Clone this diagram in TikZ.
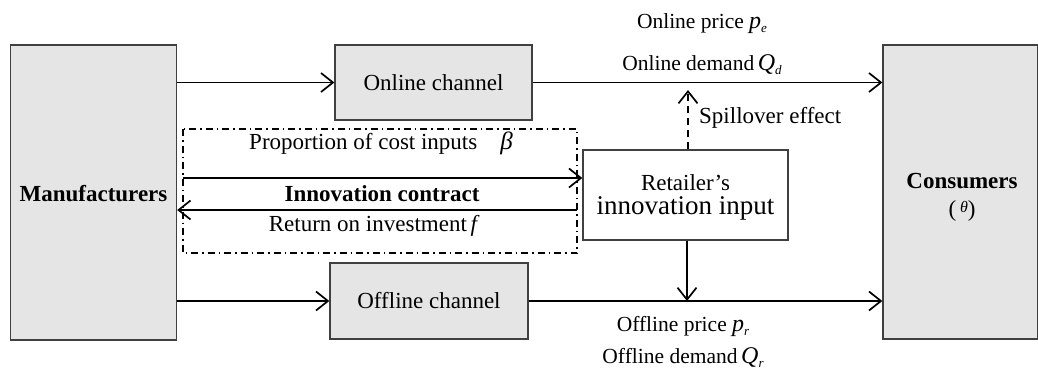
\documentclass[tikz,border=0pt]{standalone}
\usepackage{fontspec}
\setmainfont{Liberation Serif}
\usetikzlibrary{arrows.meta}
\newcommand{\sub}[1]{\raisebox{-0.45ex}{\fontsize{13}{14}\selectfont\itshape #1}}
\tikzset{
  box/.style={draw=black!75, line width=1.3pt, fill=black!10, inner sep=0pt},
  wbox/.style={draw=black!75, line width=1.3pt, fill=white, inner sep=0pt},
  arr/.style={line width=1.7pt, -{Straight Barb[length=12pt,width=19pt,line width=1.7pt]}},
  lbl/.style={inner sep=0pt, anchor=base, font=\fontsize{21.5}{24}\selectfont},
  txt/.style={inner sep=0pt, anchor=base, font=\fontsize{23}{26}\selectfont},
}
\begin{document}
\begin{tikzpicture}[x=1pt,y=-1pt]
\useasboundingbox (0,0) rectangle (1038,376);
% boxes
\node[box, minimum width=166pt, minimum height=295pt] (man) at (93.5,192.5) {};
\node[txt, font=\fontsize{23}{26}\selectfont\bfseries] (mant) at (93.5,201) {Manufacturers};
\node[box, minimum width=197pt, minimum height=75pt, font=\fontsize{23}{26}\selectfont] (on) at (433.5,82.5) {Online channel};
\node[box, minimum width=198pt, minimum height=76pt, font=\fontsize{23}{26}\selectfont] (off) at (429,301) {Offline channel};
\node[box, minimum width=155pt, minimum height=294pt] (con) at (960.5,192) {};
\node[txt, font=\fontsize{23}{26}\selectfont\bfseries] (cont) at (962,188) {Consumers};
\node[txt] (theta) at (962,216) {(\,\raisebox{0.3ex}{\fontsize{16}{18}\selectfont\itshape θ})};
\node[wbox, minimum width=205pt, minimum height=90pt] (ret) at (685.5,195) {};
\node[txt] (rett1) at (685.5,190) {Retailer’s};
\node[txt, font=\fontsize{27}{30}\selectfont] (rett2) at (685.5,214) {innovation input};
% dash-dot contract box
\draw[line width=1.3pt, dash pattern=on 7pt off 4pt on 1.5pt off 4pt] (183,129) rectangle (577,253);
\coordinate (dl) at (183,178);
\coordinate (dr) at (577,210);
% arrows
\draw[arr] (man.east |- on.west) -- (on.west);
\draw[arr] (on.east) -- (on.east -| con.west);
\draw[arr] (man.east |- off.west) -- (off.west);
\draw[arr] (off.east) -- (off.east -| con.west);
\draw[arr] (dl) -- (dl -| ret.west);
\draw[arr] (dr) -- (dr -| man.east);
\coordinate (sp) at (688,90);
\draw[arr, dash pattern=on 7pt off 5pt] (ret.north -| sp) -- (sp);
\coordinate (dn) at (687,301);
\draw[arr] (ret.south -| dn) -- (dn);
% labels
\node[lbl] (l1) at (702,28) {Online price {\fontsize{24}{26}\selectfont\itshape p}\sub{e}};
\node[lbl] (l2) at (702,70) {Online demand\,{\fontsize{24}{26}\selectfont\itshape Q}\sub{d}};
\node[txt, anchor=base west] (l3) at (699,123) {Spillover effect};
\node[txt] (l4) at (381,149) {Proportion of cost inputs\quad{\fontsize{25}{26}\selectfont\itshape β}};
\node[txt, font=\fontsize{23}{26}\selectfont\bfseries] (l5) at (382,201) {Innovation contract};
\node[txt] (l6) at (373,231) {Return on investment\,{\itshape f}};
\node[lbl] (l7) at (683,331) {Offline price {\fontsize{24}{26}\selectfont\itshape p}\sub{r}};
\node[lbl] (l8) at (683,363) {Offline demand\,{\fontsize{24}{26}\selectfont\itshape Q}\sub{r}};
\end{tikzpicture}
\end{document}
